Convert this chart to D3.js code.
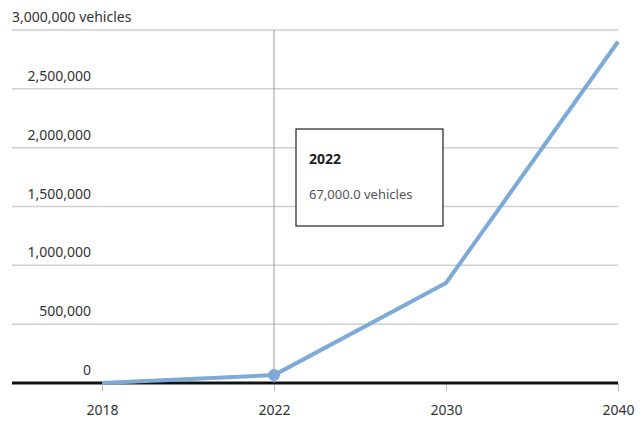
<!DOCTYPE html>
<html lang="en">
<head>
<meta charset="utf-8">
<title>vehicles</title>
<script src="https://cdn.jsdelivr.net/npm/d3@7"></script>
<style>
  body { margin: 0; background: #fff; }
  text { font-family: "Noto Sans", "Open Sans", sans-serif; }
</style>
</head>
<body>
<script>
var w = 644, h = 427;

// data
var years = ["2018", "2022", "2030", "2040"];
var vehicles = [0, 67000, 850000, 2900000];
var yTicks = [0, 500000, 1000000, 1500000, 2000000, 2500000, 3000000];
var hoverIndex = 1;

// plot edges (note: "top" is reserved by window, so use plot* names)
var plotLeft = 12, plotRight = 618, plotTop = 30, plotBottom = 383;

var xScale = d3.scalePoint().domain(years).range([102, 618]);
var yScale = d3.scaleLinear().domain([0, 3000000]).range([plotBottom, plotTop]);

var svg = d3.select("body").append("svg").attr("width", w).attr("height", h);

// gridlines + labels
var fmt = d3.format(",");
var grid = svg.append("g");
grid.selectAll("line").data(yTicks.filter(function(d){ return d > 0; })).enter()
  .append("line")
  .attr("x1", plotLeft).attr("x2", plotRight)
  .attr("y1", function(d){ return yScale(d); })
  .attr("y2", function(d){ return yScale(d); })
  .attr("stroke", "#cfcfcf").attr("stroke-width", 1.5);

grid.selectAll("text").data(yTicks).enter()
  .append("text")
  .attr("x", function(d){ return d === 3000000 ? plotLeft : 91; })
  .attr("y", function(d){ return yScale(d) - 8; })
  .attr("text-anchor", function(d){ return d === 3000000 ? "start" : "end"; })
  .attr("font-size", "14px").attr("fill", "#333")
  .text(function(d){ return d === 3000000 ? fmt(d) + " vehicles" : fmt(d); });

// x axis
var xAxis = d3.axisBottom(xScale).tickSize(8).tickPadding(14);
var gx = svg.append("g").attr("transform", "translate(0," + plotBottom + ")").call(xAxis);
gx.select(".domain").remove();
gx.selectAll(".tick line").attr("stroke", "#bbb");
gx.selectAll(".tick text").attr("font-size", "14px").attr("fill", "#333")
  .attr("font-family", "Noto Sans, Open Sans, sans-serif");
svg.append("line")
  .attr("x1", plotLeft).attr("x2", plotRight)
  .attr("y1", plotBottom).attr("y2", plotBottom)
  .attr("stroke", "#111").attr("stroke-width", 3);

// crosshair
var hx = xScale(years[hoverIndex]);
svg.append("line")
  .attr("x1", hx).attr("x2", hx).attr("y1", plotTop).attr("y2", plotBottom)
  .attr("stroke", "#999").attr("stroke-width", 1);

// series line
var line = d3.line()
  .x(function(d, i){ return xScale(years[i]); })
  .y(function(d){ return yScale(d); });
svg.append("path")
  .datum(vehicles)
  .attr("d", line)
  .attr("fill", "none")
  .attr("stroke", "#7eaad8")
  .attr("stroke-width", 4)
  .attr("stroke-linejoin", "round");

svg.append("circle")
  .attr("cx", hx).attr("cy", yScale(vehicles[hoverIndex]))
  .attr("r", 6).attr("fill", "#7eaad8");

// tooltip
var tip = svg.append("g").attr("transform", "translate(296,129)");
tip.append("rect").attr("width", 147).attr("height", 97)
  .attr("fill", "#fff").attr("stroke", "#222").attr("stroke-width", 1.2);
tip.append("text").attr("x", 13).attr("y", 35)
  .attr("font-size", "14px").attr("font-weight", "bold").attr("fill", "#222")
  .text(years[hoverIndex]);
tip.append("text").attr("x", 13).attr("y", 70)
  .attr("font-size", "13px").attr("fill", "#555")
  .text(d3.format(",.1f")(vehicles[hoverIndex]) + " vehicles");
</script>
</body>
</html>
